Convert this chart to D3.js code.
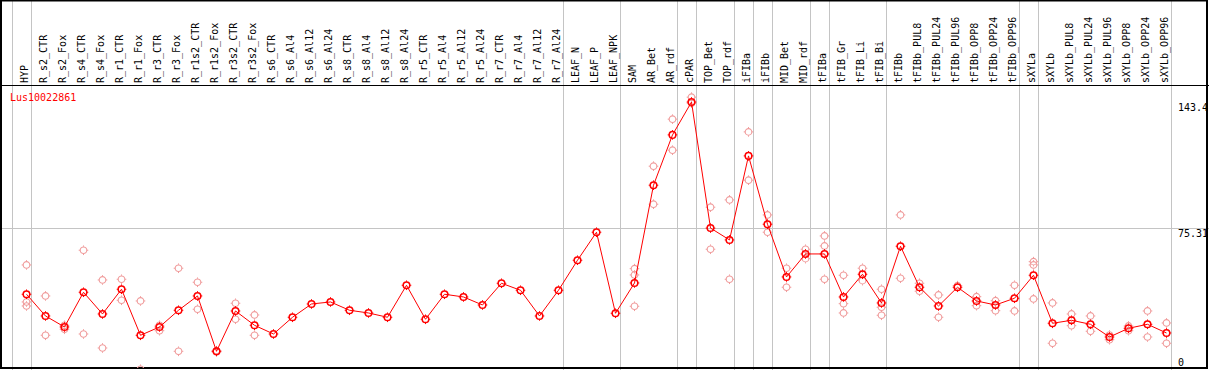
<!DOCTYPE html>
<html lang="en">
<head>
  <meta charset="UTF-8">
  <title>Lus10022861</title>
  <script src="https://d3js.org/d3.v7.min.js"></script>
  <style>
    body { margin: 0; padding: 0; background: #fff; }
    svg { display: block; }
    text { font-family: "DejaVu Sans Mono", monospace; font-size: 10px; }
  </style>
</head>
<body>
  <div id="chart"></div>
  <script>
    const geneName = "Lus10022861";

    const samples = ["HYP", "R_s2_CTR", "R_s2_Fox", "R_s4_CTR", "R_s4_Fox", "R_r1_CTR", "R_r1_Fox",
      "R_r3_CTR", "R_r3_Fox", "R_r1s2_CTR", "R_r1s2_Fox", "R_r3s2_CTR", "R_r3s2_Fox", "R_s6_CTR",
      "R_s6_Al4", "R_s6_Al12", "R_s6_Al24", "R_s8_CTR", "R_s8_Al4", "R_s8_Al12", "R_s8_Al24",
      "R_r5_CTR", "R_r5_Al4", "R_r5_Al12", "R_r5_Al24", "R_r7_CTR", "R_r7_Al4", "R_r7_Al12", "R_r7_Al24",
      "LEAF_N", "LEAF_P", "LEAF_NPK", "SAM", "AR_Bet", "AR_rdf", "cPAR", "TOP_Bet", "TOP_rdf",
      "iFIBa", "iFIBb", "MID_Bet", "MID_rdf", "tFIBa", "tFIB_Gr", "tFIB_Li", "tFIB_Bi", "tFIBb",
      "tFIBb_PUL8", "tFIBb_PUL24", "tFIBb_PUL96", "tFIBb_OPP8", "tFIBb_OPP24", "tFIBb_OPP96",
      "sXYLa", "sXYLb", "sXYLb_PUL8", "sXYLb_PUL24", "sXYLb_PUL96", "sXYLb_OPP8", "sXYLb_OPP24", "sXYLb_OPP96"];

    const means = [39.56, 27.83, 21.89, 40.64, 28.91, 42.26, 17.40, 21.89, 30.91, 38.64,
      8.75, 30.53, 22.80, 18.10, 27.13, 34.31, 35.40, 30.91, 29.45, 27.13,
      44.42, 26.05, 39.56, 38.10, 33.77, 45.50, 41.72, 27.83, 41.72, 57.93,
      73.06, 29.29, 45.66, 98.46, 125.64, 143.4, 75.31, 68.90, 114.29, 77.38,
      48.91, 61.33, 61.33, 38.10, 50.36, 34.86, 65.50, 43.34, 33.23, 43.34,
      35.94, 33.77, 37.40, 49.82, 23.89, 25.51, 23.34, 16.48, 21.18, 23.34, 18.64];

    const replicates = [
      [55.39, 35.40, 33.23], [38.64, 17.40], [22.80, 20.64], [63.33, 18.10], [47.28, 10.54],
      [47.66, 36.31], [35.94, -0.97], [22.80, 19.89], [53.61, 8.75], [46.04, 31.45],
      [9.08, 8.40], [34.69, 26.05], [28.37, 17.40], [], [],
      [], [], [], [], [], [], [], [], [], [], [], [], [], [], [], [], [],
      [53.39, 49.99, 33.07], [108.73, 88.19], [134.13, 117.37], [146.01, 142.77],
      [86.57, 63.87], [90.52, 47.66], [127.26, 101.16], [82.41, 73.06],
      [53.61, 43.34], [63.87, 58.79], [71.06, 65.66, 47.66], [49.82, 34.48, 29.45],
      [53.61, 46.91], [42.26, 32.53, 28.21], [82.41, 48.20],
      [45.50, 41.18], [39.18, 27.13], [44.20], [38.26, 33.40], [36.10, 30.69], [44.42, 30.53],
      [57.17, 55.39, 37.02], [34.86, 13.08], [28.91, 22.59], [27.83, 19.56], [17.56, 15.02],
      [22.43, 19.89], [30.53, 16.48], [24.05, 13.08]
    ];

    // last sample index of each tissue group (-1 = left edge)
    const groupEnds = [-1, 0, 28, 31, 34, 35, 37, 38, 39, 41, 42, 45, 52, 53, 60];

    const yTicks = [0, 75.31, 143.4];

    const width = 1209;
    const height = 370;
    const headerBottom = 85;

    const svg = d3.select("#chart")
      .append("svg")
      .attr("width", width)
      .attr("height", height);

    const x = d3.scaleBand()
      .domain(samples)
      .range([12, 1171])
      .padding(0);

    const px = s => x(s) + 14.5;

    const y = d3.scaleLinear()
      .domain([0, 143.4])
      .range([367.5, 102]);

    const plot = svg.append("g");

    // clip to plot area
    svg.append("defs").append("clipPath").attr("id", "plot-clip")
      .append("rect")
      .attr("x", 2).attr("y", headerBottom + 1)
      .attr("width", 1204).attr("height", 368 - headerBottom - 1);

    // group separators
    const sepX = i => i < 0 ? x(samples[0]) : x(samples[i]) + x.step();
    svg.selectAll(".sep")
      .data(groupEnds)
      .enter()
      .append("line")
      .attr("x1", d => sepX(d) + 0.5)
      .attr("x2", d => sepX(d) + 0.5)
      .attr("y1", 0)
      .attr("y2", height)
      .attr("stroke", "#c4c4c4")
      .attr("stroke-width", 1);

    // middle gridline
    svg.append("line")
      .attr("x1", 0)
      .attr("x2", width)
      .attr("y1", Math.round(y(75.31)) + 0.5)
      .attr("y2", Math.round(y(75.31)) + 0.5)
      .attr("stroke", "#c4c4c4")
      .attr("stroke-width", 1);

    // header labels
    svg.selectAll(".hdr")
      .data(samples)
      .enter()
      .append("text")
      .attr("transform", d => `translate(${px(d) + 1},${headerBottom - 2}) rotate(-90)`)
      .attr("fill", "#000")
      .text(d => d);

    // frame and header separator
    svg.append("line")
      .attr("x1", 0).attr("x2", width)
      .attr("y1", headerBottom + 0.5).attr("y2", headerBottom + 0.5)
      .attr("stroke", "#000");
    svg.append("rect")
      .attr("x", 1).attr("y", 0.5)
      .attr("width", 1206).attr("height", 367.5)
      .attr("fill", "none")
      .attr("stroke", "#000")
      .attr("stroke-width", 2);

    const gPlot = svg.append("g").attr("clip-path", "url(#plot-clip)");

    function marker(sel, color, sw) {
      sel.append("circle")
        .attr("r", 3.3)
        .attr("fill", "none")
        .attr("stroke", color)
        .attr("stroke-width", sw);
      [[0, -1], [0, 1], [-1, 0], [1, 0]].forEach(([dx, dy]) => {
        sel.append("line")
          .attr("x1", dx * 3.5).attr("y1", dy * 3.5)
          .attr("x2", dx * 4.8).attr("y2", dy * 4.8)
          .attr("stroke", color)
          .attr("stroke-width", 1);
      });
    }

    // replicate points
    const repData = [];
    replicates.forEach((vals, i) => vals.forEach(v => repData.push({ s: samples[i], v })));
    gPlot.selectAll(".rep")
      .data(repData)
      .enter()
      .append("g")
      .attr("transform", d => `translate(${px(d.s)},${y(d.v)})`)
      .call(marker, "#f09c9c", 1.1);

    // mean line
    const line = d3.line()
      .x((d, i) => px(samples[i]))
      .y(d => y(d));
    gPlot.append("path")
      .datum(means)
      .attr("d", line)
      .attr("fill", "none")
      .attr("stroke", "#ff0000")
      .attr("stroke-width", 1);

    gPlot.selectAll(".mean")
      .data(means)
      .enter()
      .append("g")
      .attr("transform", (d, i) => `translate(${px(samples[i])},${y(d)})`)
      .call(marker, "#ff0000", 1.5);

    // gene label
    svg.append("text")
      .attr("x", 10)
      .attr("y", 101)
      .attr("fill", "#ff0000")
      .text(geneName);

    // value labels
    svg.selectAll(".ytick")
      .data(yTicks)
      .enter()
      .append("text")
      .attr("x", 1178)
      .attr("y", d => d === 0 ? y(d) - 2 : y(d) + 9)
      .attr("fill", "#000")
      .text(d => d);
  </script>
</body>
</html>
